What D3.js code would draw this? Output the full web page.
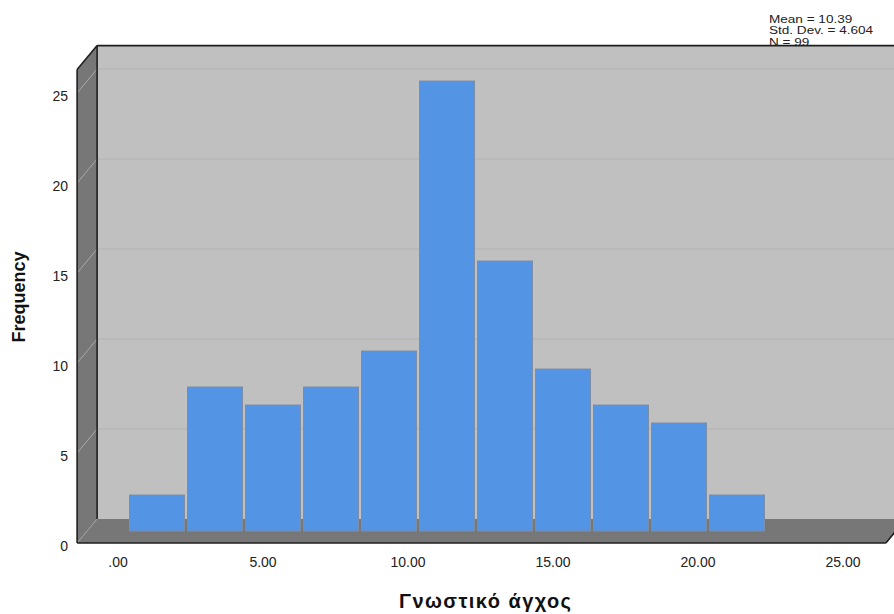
<!DOCTYPE html>
<html>
<head>
<meta charset="utf-8">
<script src="https://cdn.jsdelivr.net/npm/d3@7"></script>
<style>
  html, body { margin: 0; padding: 0; background: #ffffff; }
  svg { display: block; }
  text { font-family: "Liberation Sans", Arial, sans-serif; }
</style>
</head>
<body>
<svg id="chart" width="894" height="614"></svg>
<script>
// Histogram of the score, bins of width 2
const binStarts = [0, 2, 4, 6, 8, 10, 12, 14, 16, 18, 20];
const binWidth = 2;
const frequencies = [2, 8, 7, 8, 10, 25, 15, 9, 7, 6, 2];
const xTicks = [0, 5, 10, 15, 20, 25];
const xTickLabels = [".00", "5.00", "10.00", "15.00", "20.00", "25.00"];
const yTicks = [0, 5, 10, 15, 20, 25];
const statLines = ["Mean = 10.39", "Std. Dev. = 4.604", "N = 99"];
const xTitle = "Γνωστικό άγχος";
const yTitle = "Frequency";

const W = 894, H = 614;
const svg = d3.select("#chart");

// Front plane scales; the back wall is offset by a depth vector
const x = d3.scaleLinear().domain([0, 25]).range([118, 843]);
const y = d3.scaleLinear().domain([0, 25]).range([543, 93]);
const depth = { dx: 20, dy: -24 };
const xMin = -1.41, xMax = 26.48, yMax = 26.3;

const fl = x(xMin), fr = x(xMax), fb = y(0), ft = y(yMax);
const pt = (px, py, k) => [px + depth.dx * k, py + depth.dy * k];
const line = d3.line();

// Back wall
svg.append("path")
  .attr("d", line([pt(fl, ft, 1), pt(fr + 40, ft, 1), pt(fr + 40, fb, 1), pt(fl, fb, 1)]) + "Z")
  .attr("fill", "#c0c0c0");

// Left side wall
svg.append("path")
  .attr("d", line([[fl, ft], pt(fl, ft, 1), pt(fl, fb, 1), [fl, fb]]) + "Z")
  .attr("fill", "#777777");

// Floor
svg.append("path")
  .attr("d", line([[fl, fb], pt(fl, fb, 1), pt(fr, fb, 1), [fr, fb]]) + "Z")
  .attr("fill", "#777777");

// Gridlines on the back wall and across the side wall
yTicks.filter(v => v > 0).forEach(v => {
  svg.append("path")
    .attr("d", line([pt(fl, y(v), 1), pt(fr + 40, y(v), 1)]))
    .attr("stroke", "#b2b2b2").attr("stroke-width", 1.2).attr("fill", "none");
  svg.append("path")
    .attr("d", line([[fl, y(v)], pt(fl, y(v), 1)]))
    .attr("stroke", "#a9a9a9").attr("stroke-width", 1).attr("fill", "none");
});
svg.append("path")
  .attr("d", line([[fl, fb], pt(fl, fb, 1)]))
  .attr("stroke", "#a0a0a0").attr("stroke-width", 1).attr("fill", "none");

// Bars sit at mid depth
const gap = 1.5;
svg.append("g").selectAll("rect")
  .data(binStarts.map((s, i) => ({ lo: s, hi: s + binWidth, f: frequencies[i] })))
  .join("rect")
  .attr("x", d => x(d.lo) + gap + depth.dx * 0.5)
  .attr("width", d => x(d.hi) - x(d.lo) - 2 * gap)
  .attr("y", d => y(d.f) + depth.dy * 0.5)
  .attr("height", d => y(0) - y(d.f))
  .attr("fill", "#5494e4")
  .attr("stroke", "#7d8da4")
  .attr("stroke-width", 1);

// Frame edges
const frame = [
  [[fl, fb], [fl, ft]],
  [[fl, ft], pt(fl, ft, 1)],
  [pt(fl, ft, 1), pt(fr + 40, ft, 1)],
  [pt(fl, ft, 1), pt(fl, fb, 1)],
  [[fl, fb], [fr, fb]],
  [[fr, fb], pt(fr, fb, 1)]
];
frame.forEach(seg => {
  svg.append("path").attr("d", line(seg))
    .attr("stroke", "#1e1e1e").attr("stroke-width", 1.6).attr("fill", "none");
});

// Y tick labels
svg.append("g").selectAll("text")
  .data(yTicks)
  .join("text")
  .attr("x", 68)
  .attr("y", d => y(d) + 8)
  .attr("text-anchor", "end")
  .attr("font-size", 14)
  .attr("fill", "#222")
  .text(d => d);

// X tick labels
svg.append("g").selectAll("text")
  .data(xTicks)
  .join("text")
  .attr("x", d => x(d))
  .attr("y", 567)
  .attr("text-anchor", "middle")
  .attr("font-size", 14)
  .attr("fill", "#222")
  .text((d, i) => xTickLabels[i]);

// Axis titles
svg.append("text")
  .attr("x", 485).attr("y", 608)
  .attr("text-anchor", "middle")
  .attr("font-size", 20).attr("font-weight", "bold")
  .attr("textLength", 172).attr("lengthAdjust", "spacing")
  .attr("fill", "#111")
  .text(xTitle);

svg.append("text")
  .attr("transform", "translate(25,297) rotate(-90)")
  .attr("text-anchor", "middle")
  .attr("font-size", 18).attr("font-weight", "bold")
  .attr("fill", "#111")
  .text(yTitle);

// Summary statistics, slightly widened lettering
const stats = svg.append("g").attr("transform", "translate(769,0) scale(1.18,1)");
stats.selectAll("text")
  .data(statLines)
  .join("text")
  .attr("x", 0)
  .attr("y", (d, i) => 23 + i * 11.5)
  .attr("font-size", 11.5)
  .attr("fill", "#222")
  .text(d => d);
</script>
</body>
</html>
